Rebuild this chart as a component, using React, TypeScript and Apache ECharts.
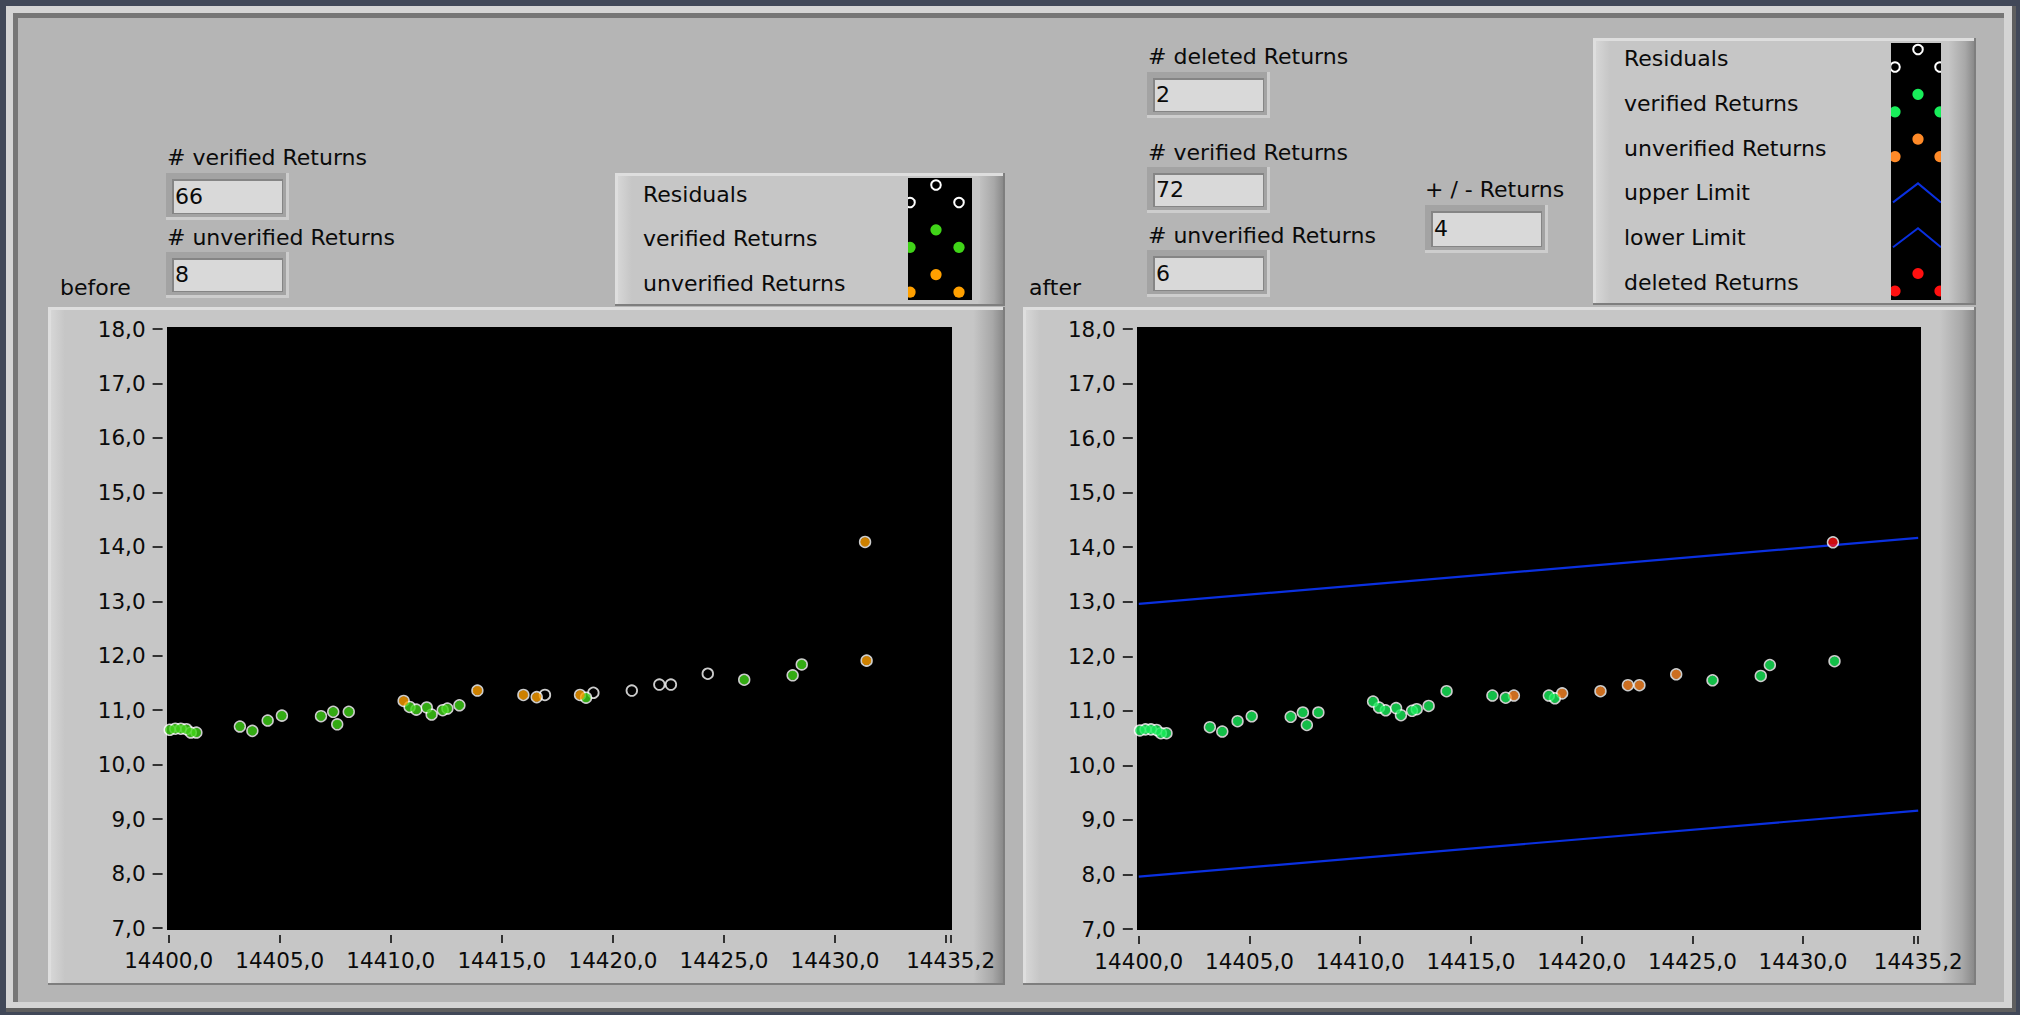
import React, { useEffect, useRef } from "react";
import * as echarts from "echarts";

// ---------- axis ranges ----------
const X_MIN = 14400;
const X_MAX = 14435.2;
const X_INTERVAL = 5;
const Y_MIN = 7;
const Y_MAX = 18;
const Y_INTERVAL = 1;

// ---------- data ----------
// returns verified in both runs
const verifiedReturns: number[][] = [
  [14400.05, 10.64], [14400.3, 10.66], [14400.55, 10.66], [14400.8, 10.65],
  [14401.0, 10.59], [14401.25, 10.59], [14403.21, 10.7], [14403.77, 10.62],
  [14404.46, 10.81], [14405.1, 10.9], [14406.86, 10.89], [14407.41, 10.97],
  [14407.59, 10.74], [14408.11, 10.97], [14410.85, 11.06], [14411.15, 11.01],
  [14411.62, 11.05], [14411.84, 10.92], [14412.34, 11.0], [14412.55, 11.03],
  [14413.09, 11.09], [14418.79, 11.23], [14425.91, 11.56], [14428.09, 11.64],
  [14428.5, 11.84],
];
// unverified before, verified after
const confirmedReturns: number[][] = [
  [14410.58, 11.17], [14413.9, 11.36], [14415.97, 11.28], [14416.57, 11.24],
  [14418.52, 11.28], [14431.42, 11.91],
];
// residual only before, unverified after
const pendingReturns: number[][] = [
  [14416.94, 11.28], [14419.12, 11.32], [14420.85, 11.36], [14422.09, 11.47],
  [14422.61, 11.47], [14424.27, 11.67],
];
// unverified before, deleted after
const deletedReturns: number[][] = [[14431.35, 14.09]];

const upperLimit: number[][] = [[14400, 12.96], [14435.2, 14.17]];
const lowerLimit: number[][] = [[14400, 7.96], [14435.2, 9.17]];

const beforeCountLabels = ["# verified Returns", "# unverified Returns"];
const beforeCountValues = ["66", "8"];
const afterCountLabels = ["# deleted Returns", "# verified Returns", "# unverified Returns"];
const afterCountValues = ["2", "72", "6"];
const toleranceLabel = "+ / - Returns";
const toleranceValue = "4";
const beforeLegend = ["Residuals", "verified Returns", "unverified Returns"];
const afterLegend = ["Residuals", "verified Returns", "unverified Returns", "upper Limit", "lower Limit", "deleted Returns"];

// ---------- styles ----------
const FONT = "'DejaVu Sans', Verdana, sans-serif";
const MAIN = "#b5b5b5";
const PANEL = "#c6c6c6";
const C = {
  greenBefore: "#40d418",
  greenAfter: "#18ee5a",
  orangeBefore: "#ffa000",
  orangeAfter: "#ff8a28",
  red: "#ff1010",
  blue: "#0a30e0",
};

const fmt = (v: number) => v.toFixed(1).replace(".", ",");

function lin(stops: [number, string][], vertical = false) {
  return {
    type: "linear",
    x: 0, y: 0, x2: vertical ? 0 : 1, y2: vertical ? 1 : 0,
    colorStops: stops.map(([offset, color]) => ({ offset, color })),
  };
}

function raised(x: number, y: number, w: number, h: number, rightShade: number) {
  const r = rightShade / w;
  const l = 14 / w;
  return [
    { type: "rect", shape: { x, y, width: w, height: h }, style: { fill: "#7e7e7e" } },
    { type: "rect", shape: { x, y, width: w - 2, height: h - 2 }, style: { fill: "#dedede" } },
    {
      type: "rect", shape: { x: x + 3, y: y + 3, width: w - 5, height: h - 5 },
      style: { fill: lin([[0, "#d6d6d6"], [l, PANEL], [1 - r, PANEL], [1 - r * 0.35, "#a8a8a8"], [1, "#8a8a8a"]]) },
    },
  ];
}

function field(x: number, y: number, w: number, h: number, value: string) {
  return [
    { type: "rect", shape: { x, y, width: w, height: h }, style: { fill: "#cdcdcd" } },
    { type: "rect", shape: { x, y, width: w - 3, height: h - 3 }, style: { fill: "#a3a3a3" } },
    { type: "rect", shape: { x: x + 6, y: y + 6, width: w - 12, height: h - 12 }, style: { fill: "#858585" } },
    { type: "rect", shape: { x: x + 8, y: y + 8, width: w - 15, height: h - 15 }, style: { fill: "#d9d9d9" } },
    text(x + 9, y + h / 2 - 0.5, value),
  ];
}

function text(x: number, y: number, t: string, size = 22) {
  return {
    type: "text", x, y,
    style: {
      text: t, fill: "#0a0a0a", fontSize: size, fontFamily: FONT,
      textAlign: "left", textVerticalAlign: "middle", verticalAlign: "middle",
    },
  };
}

type Glyph = { kind: "ring" | "dot" | "line"; color: string };

function legend(
  px: number, py: number, pw: number, ph: number,
  sx: number, sy: number, sw: number, sh: number,
  textX: number, row0: number, rowGap: number,
  names: string[], glyphs: Glyph[], gx: [number, number, number]
) {
  const els: any[] = [...raised(px, py, pw, ph, 26)];
  els.push({ type: "rect", shape: { x: sx, y: sy, width: sw, height: sh }, style: { fill: "#000" } });
  names.forEach((name, i) => {
    const cy = row0 + i * rowGap;
    els.push(text(textX, cy - 1.5, name));
    const g = glyphs[i];
    const pts = [[gx[0], cy + 7], [gx[1], cy - 10.5], [gx[2], cy + 7]];
    if (g.kind === "line") {
      els.push({
        type: "polyline",
        shape: { points: [[sx + 2, cy + 8], [gx[1], cy - 11], [sx + sw, cy + 8]] },
        style: { stroke: g.color, lineWidth: 2, fill: null },
      });
    } else {
      pts.forEach(([cx, cyy]) => {
        if (g.kind === "ring") {
          els.push({ type: "circle", shape: { cx, cy: cyy, r: 4.8 }, style: { fill: null, stroke: "#fff", lineWidth: 2 } });
        } else {
          els.push({ type: "circle", shape: { cx, cy: cyy, r: 5.6 }, style: { fill: g.color } });
        }
      });
    }
  });
  // clip glyphs at swatch edges
  els.push({ type: "rect", shape: { x: sx - 8, y: sy, width: 8, height: sh }, style: { fill: PANEL } });
  els.push({ type: "rect", shape: { x: sx + sw, y: sy, width: 8, height: sh }, style: { fill: PANEL } });
  return els;
}

function xAxis(gi: number) {
  return {
    type: "value", gridIndex: gi, min: X_MIN, max: X_MAX, interval: X_INTERVAL, offset: 7, z: 10,
    axisLine: { show: false },
    axisTick: { show: true, length: 8, lineStyle: { color: "#000", width: 1.5 } },
    axisLabel: {
      color: "#0a0a0a", fontFamily: FONT, fontSize: 21.5, margin: 14,
      showMinLabel: true, showMaxLabel: true, hideOverlap: false,
      formatter: (v: number) => (v === 14435 ? "" : fmt(v)),
    },
    splitLine: { show: false },
  };
}

function yAxis(gi: number) {
  return {
    type: "value", gridIndex: gi, min: Y_MIN, max: Y_MAX, interval: Y_INTERVAL, offset: 6, z: 10,
    axisLine: { show: false },
    axisTick: { show: true, length: 10, lineStyle: { color: "#000", width: 1.5 } },
    axisLabel: { color: "#0a0a0a", fontFamily: FONT, fontSize: 21.5, margin: 17, formatter: (v: number) => fmt(v) },
    splitLine: { show: false },
  };
}

function rings(data: number[][], gi: number) {
  return {
    type: "scatter", name: "Residuals", xAxisIndex: gi, yAxisIndex: gi, data, z: 20, silent: true,
    symbol: "circle", symbolSize: 10.6,
    itemStyle: { color: "rgba(0,0,0,0)", borderColor: "#ffffff", borderWidth: 1.8 },
    emphasis: { disabled: true },
  };
}

function dots(name: string, data: number[][], gi: number, color: string) {
  return {
    type: "scatter", name, xAxisIndex: gi, yAxisIndex: gi, data, z: 21, silent: true,
    symbol: "circle", symbolSize: 9.2, itemStyle: { color },
    emphasis: { disabled: true },
  };
}

function limit(name: string, data: number[][]) {
  return {
    type: "line", name, xAxisIndex: 1, yAxisIndex: 1, data, z: 15, silent: true,
    showSymbol: false, symbol: "none", lineStyle: { color: C.blue, width: 2.2 },
    emphasis: { disabled: true },
  };
}

export default function App() {
  const ref = useRef<HTMLDivElement>(null);
  useEffect(() => {
    if (!ref.current) return;
    const chart = echarts.init(ref.current, null, { renderer: "svg" });

    const allResiduals = [...verifiedReturns, ...confirmedReturns, ...pendingReturns, ...deletedReturns];

    const elements: any[] = [
      // window frame
      { type: "rect", shape: { x: 6, y: 6, width: 2010, height: 1006 }, style: { fill: "#5f5f5f" } },
      { type: "rect", shape: { x: 6, y: 6, width: 2006, height: 1002 }, style: { fill: "#d4d4d4" } },
      { type: "rect", shape: { x: 13, y: 13, width: 1991, height: 989 }, style: { fill: "#767676" } },
      { type: "rect", shape: { x: 18, y: 18, width: 1986, height: 984 }, style: { fill: MAIN } },
      // graph frames
      ...raised(48, 307, 957, 678, 30),
      ...raised(1023, 307, 953, 678, 34),
      // plot backgrounds
      { type: "rect", shape: { x: 167, y: 327, width: 785, height: 603 }, style: { fill: "#000" } },
      { type: "rect", shape: { x: 1137, y: 327, width: 784, height: 603 }, style: { fill: "#000" } },
      // before labels and fields
      text(60, 287.5, "before"),
      text(167, 157.5, beforeCountLabels[0]),
      ...field(166, 173, 123, 47, beforeCountValues[0]),
      text(167, 237, beforeCountLabels[1]),
      ...field(166, 252, 123, 46, beforeCountValues[1]),
      // after labels and fields
      text(1029, 287.5, "after"),
      text(1148, 56, afterCountLabels[0]),
      ...field(1147, 72, 123, 46, afterCountValues[0]),
      text(1148, 152, afterCountLabels[1]),
      ...field(1147, 167, 123, 46, afterCountValues[1]),
      text(1148, 235.5, afterCountLabels[2]),
      ...field(1147, 250, 123, 47, afterCountValues[2]),
      text(1425, 189.5, toleranceLabel),
      ...field(1425, 205, 123, 48, toleranceValue),
      // legends
      ...legend(615, 173, 390, 133, 908, 178, 64, 122, 643, 195.5, 44.8, beforeLegend,
        [{ kind: "ring", color: "#fff" }, { kind: "dot", color: C.greenBefore }, { kind: "dot", color: C.orangeBefore }],
        [910, 936, 959]),
      ...legend(1593, 38, 383, 267, 1891, 43, 50, 257, 1624, 60, 44.8, afterLegend,
        [
          { kind: "ring", color: "#fff" }, { kind: "dot", color: C.greenAfter }, { kind: "dot", color: C.orangeAfter },
          { kind: "line", color: C.blue }, { kind: "line", color: C.blue }, { kind: "dot", color: C.red },
        ],
        [1895, 1918, 1940]),
    ];

    chart.setOption({
      animation: false,
      backgroundColor: "#414858",
      graphic: { elements },
      grid: [
        { left: 168.6, top: 329, width: 782, height: 599, show: false },
        { left: 1138.8, top: 329, width: 779.4, height: 600, show: false },
      ],
      xAxis: [xAxis(0), xAxis(1)],
      yAxis: [yAxis(0), yAxis(1)],
      series: [
        rings(allResiduals, 0),
        dots("verified Returns", verifiedReturns, 0, C.greenBefore),
        dots("unverified Returns", [...confirmedReturns, ...deletedReturns], 0, C.orangeBefore),
        limit("upper Limit", upperLimit),
        limit("lower Limit", lowerLimit),
        rings(allResiduals, 1),
        dots("verified Returns", [...verifiedReturns, ...confirmedReturns], 1, C.greenAfter),
        dots("unverified Returns", pendingReturns, 1, C.orangeAfter),
        dots("deleted Returns", deletedReturns, 1, C.red),
      ],
    });
    return () => chart.dispose();
  }, []);
  return <div ref={ref} style={{ position: "fixed", left: 0, top: 0, width: 2020, height: 1015 }} />;
}
